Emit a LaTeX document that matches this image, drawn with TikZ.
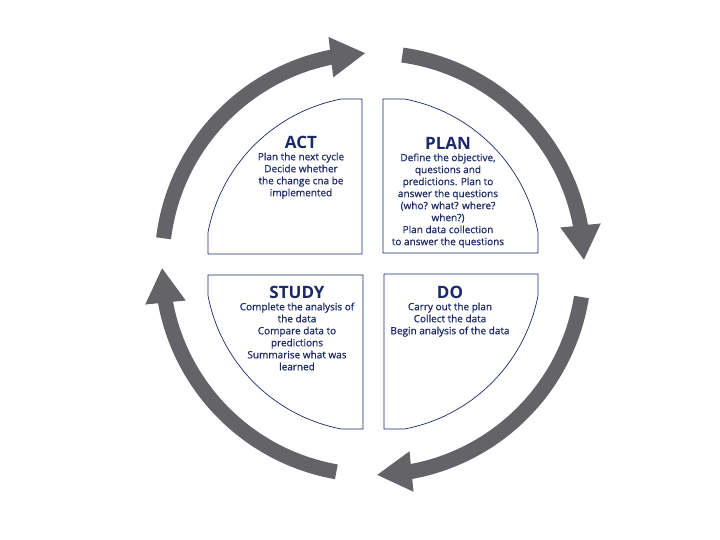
\documentclass[tikz,border=0pt]{standalone}
\usepackage{fontspec}
\setmainfont{Open Sans}
\newfontface\pdsabody{Open Sans}[FakeBold=0.6]
\usetikzlibrary{arrows.meta,bending,positioning}
\definecolor{cyclegray}{RGB}{100,100,104}
\definecolor{pdsanavy}{RGB}{28,40,104}
\tikzset{
  quad/.style={draw=pdsanavy, line width=0.7pt, fill=white},
  title/.style={font=\fontsize{17}{17}\selectfont\bfseries, text=pdsanavy, inner sep=0pt},
  body/.style={font=\fontsize{10}{12}\selectfont\pdsabody, text=pdsanavy, align=center, inner sep=0pt},
  cycarrow/.style={line width=15pt, draw=cyclegray, -{Triangle[length=35pt,width=38pt]}},
}

\begin{document}
\begin{tikzpicture}[x=1pt, y=1pt]
\useasboundingbox (-373,-276) rectangle (347,264);

% the four quarters
\foreach \r in {0,90,180,270}
  \draw[quad, rotate=\r] (10,11) -- (10,165) -- (79.2:168)
    arc[start angle=79.2, end angle=10.8, radius=168] -- (165,11) -- cycle;

% cycle arrows
\draw[cycarrow] (173:211) arc[start angle=173, end angle=92, radius=211];
\draw[cycarrow] (82:211) arc[start angle=82, end angle=1, radius=211];
\draw[cycarrow] (-9:211) arc[start angle=-9, end angle=-89, radius=211];
\draw[cycarrow] (-100:211) arc[start angle=-100, end angle=-179, radius=211];

\node[title] (act) at (-72,122) {ACT};
\node[body, below=4pt of act] (act-txt) {Plan the next cycle\\Decide whether\\the change cna be\\implemented};

\node[title] (plan) at (75,121) {PLAN};
\node[body, below=4pt of plan] (plan-txt) {Define the objective,\\questions and\\predictions. Plan to\\answer the questions\\(who? what? where?\\when?)\\Plan data collection\\to answer the questions};

\node[title] (study) at (-76,-28) {STUDY};
\node[body, below=4pt of study] (study-txt) {Complete the analysis of\\the data\\Compare data to\\predictions\\Summarise what was\\learned};

\node[title] (do) at (77,-28) {DO};
\node[body, below=4pt of do] (do-txt) {Carry out the plan\\Collect the data\\Begin analysis of the data};
\end{tikzpicture}
\end{document}
